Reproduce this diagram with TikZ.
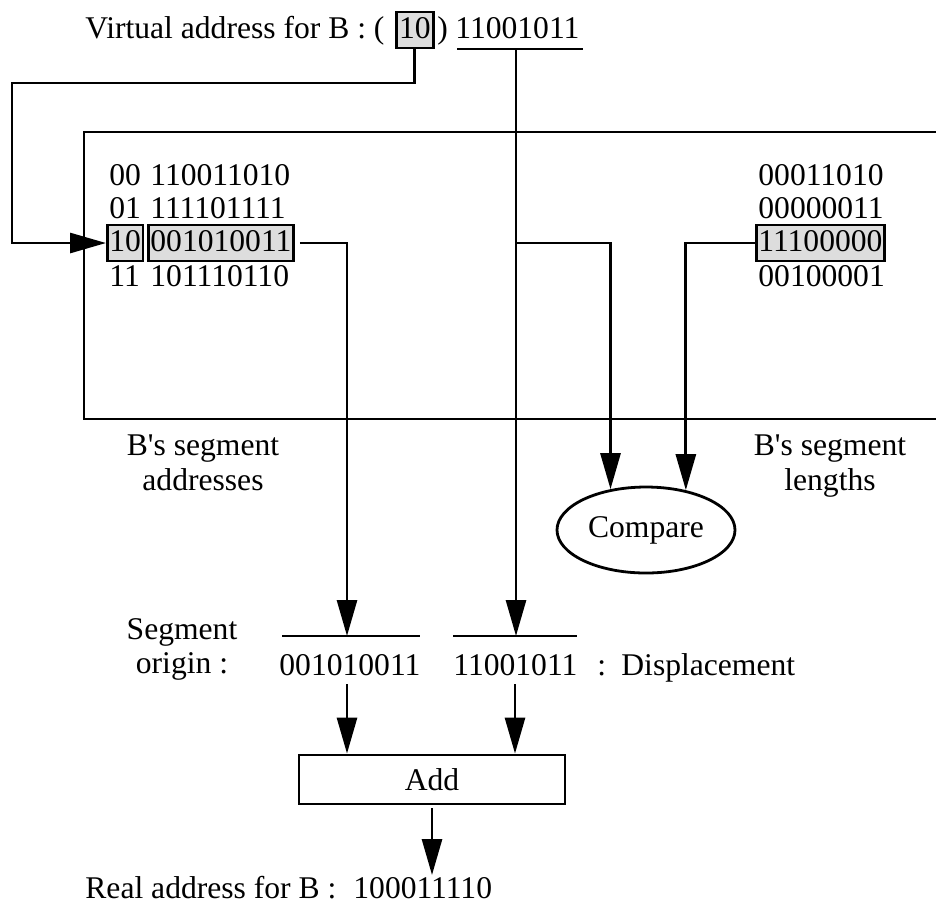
\documentclass[tikz,border=0pt]{standalone}
\usepackage{fontspec}
\setmainfont{Liberation Serif}[Ligatures=TeXOff]
\usetikzlibrary{arrows.meta,shapes.geometric}
\definecolor{boxgray}{RGB}{221,221,221}
\begin{document}
\begin{tikzpicture}[x=0.5pt,y=-0.5pt,
  every node/.style={font=\fontsize{15.8}{18}\selectfont, inner sep=0pt},
  line width=1.4pt,
  txt/.style={anchor=base west},
  ctr/.style={anchor=base},
  cell/.style={anchor=base west, inner xsep=1pt, inner ysep=0pt, text height=13pt, text depth=5pt},
  hl/.style={draw, fill=boxgray, line width=1.4pt},
  arr/.style={-{Triangle[length=18pt,width=10pt]}, line width=1.4pt},
  plain/.style={line width=1.4pt}]
\useasboundingbox (0,0) rectangle (936,902);

% top virtual address
\node[txt] (vlab) at (84,38) {Virtual address for B : (};
\node[cell,hl,inner xsep=1.3pt] (vseg) at (395,38) {10};
\node[txt] (vpar) at (436,38) {)};
\node[txt] (vdisp) at (454,38) {11001011};
\coordinate (vuL) at (457,49);
\coordinate (vuR) at (583,49);
\coordinate (vuM) at (516,49);
\draw[plain] (vuL) -- (vuR);

% big box (open on the right)
\coordinate (bxTR) at (936,132);
\coordinate (bxTL) at (84,132);
\coordinate (bxBL) at (84,419);
\coordinate (bxBR) at (936,419);
\draw[plain] (bxTR) -- (bxTL) -- (bxBL) -- (bxBR);

% left table: segment addresses
\node[cell] (a0) at (106,185) {00};
\node[cell] (v0) at (147,185) {110011010};
\node[cell] (a1) at (106,218) {01};
\node[cell] (v1) at (147,218) {111101111};
\node[cell,hl] (a2) at (106,251) {10};
\node[cell,hl] (v2) at (147,251) {001010011};
\node[cell] (a3) at (106,286) {11};
\node[cell] (v3) at (147,286) {101110110};

% right table: segment lengths
\node[cell] (r0) at (755,185) {00011010};
\node[cell] (r1) at (755,218) {00000011};
\node[cell,hl] (r2) at (755,251) {11100000};
\node[cell] (r3) at (755,286) {00100001};

% labels under box
\node[ctr] (la1) at (203,455) {B's segment};
\node[ctr] (la2) at (203,490) {addresses};
\node[ctr] (lb1) at (830,455) {B's segment};
\node[ctr] (lb2) at (830,490) {lengths};

% compare
\node[ellipse, draw, line width=1.4pt, minimum width=89pt, minimum height=43pt] (cmp) at (646,530) {Compare};

% segment origin / displacement
\node[ctr] (so1) at (182,639) {Segment};
\node[ctr] (so2) at (182,673) {origin :};
\node[txt] (sov) at (278,675) {001010011};
\node[txt] (dv) at (452,675) {11001011};
\node[txt] (dcol) at (596,675) {:};
\node[txt] (dlab) at (620,675) {Displacement};
\coordinate (suL) at (282,636);
\coordinate (suR) at (420,636);
\coordinate (soM) at (347,636);
\coordinate (duL) at (453,636);
\coordinate (duR) at (577,636);
\coordinate (dM) at (516,636);
\draw[plain] (suL) -- (suR);
\draw[plain] (duL) -- (duR);

% add
\node[draw, line width=1.4pt, minimum width=133pt, minimum height=24.5pt] (add) at (432,779.5) {Add};
\coordinate (s1) at (347,684);
\coordinate (d1) at (515,684);

% real address
\node[txt] (rlab) at (84,898) {Real address for B :};
\node[txt] (rval) at (352,898) {100011110};
\coordinate (rtop) at (433,875);

% connectors
\coordinate (c1) at (12,83);
\draw[arr] (vseg.south) |- (c1) |- (a2.west);
\draw[arr] (vuM) -- (dM);
\coordinate (j1) at (516,243);
\draw[arr] (j1) -| (cmp.131.5);
\draw[arr] (r2.west) -| (cmp.45.7);
\draw[arr] ([xshift=2.5pt]v2.east) -| (soM);
\draw[arr] (s1) -- (s1 |- add.north);
\draw[arr] (d1) -- (d1 |- add.north);
\draw[arr] ([yshift=-1.5pt]add.south) -- (add.south |- rtop);
\end{tikzpicture}
\end{document}
